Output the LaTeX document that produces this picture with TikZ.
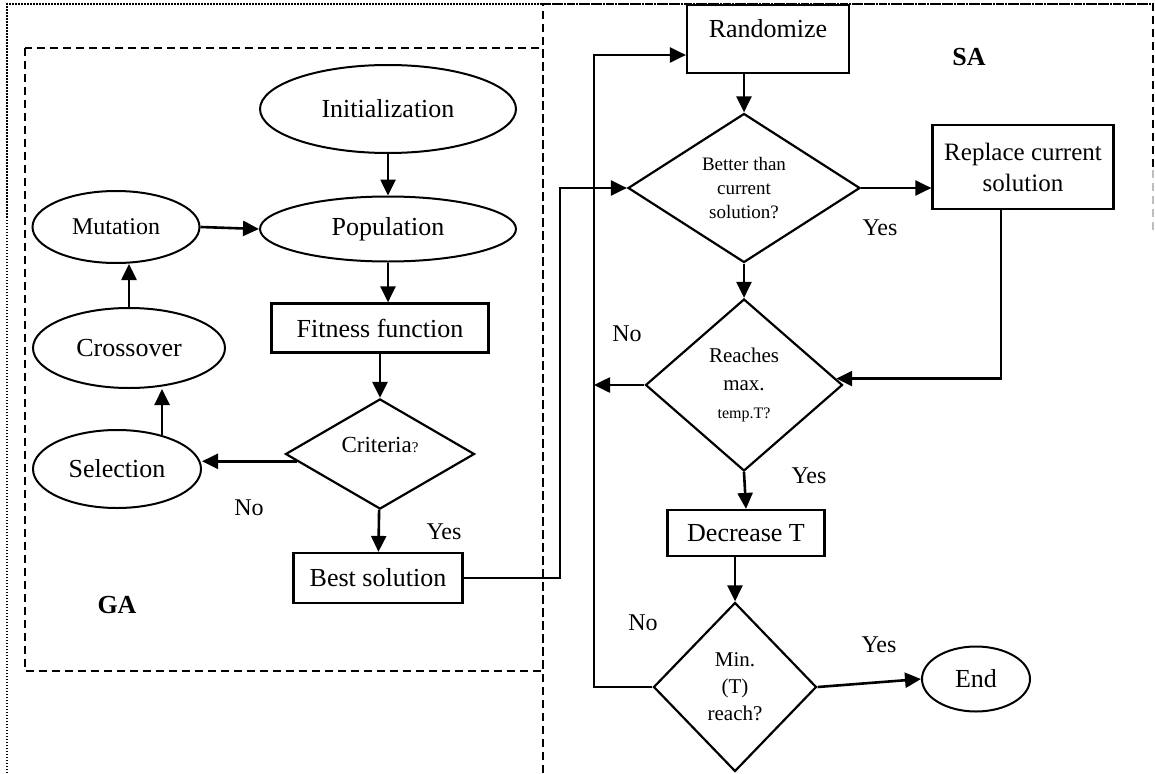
\documentclass[tikz,border=0pt]{standalone}
\usepackage{fontspec}
\setmainfont{Liberation Serif}
\usetikzlibrary{shapes.geometric,arrows.meta}

\begin{document}
\begin{tikzpicture}[x=1pt,y=-1pt,
  arr/.style={line width=2.6pt,-{Triangle[length=16pt,width=15pt]}},
  oval/.style={draw,ellipse,line width=2pt,inner sep=0pt,font=\fontsize{26}{30}\selectfont},
  box/.style={draw,rectangle,line width=2.2pt,inner sep=0pt,align=center,font=\fontsize{26}{30}\selectfont},
  decision/.style={draw,diamond,line width=2.2pt,inner sep=0pt,align=center},
  lbl/.style={font=\fontsize{24}{28}\selectfont},
  frame/.style={line width=2.2pt,dash pattern=on 8pt off 5pt}]
\useasboundingbox (0,0) rectangle (1155,773);

\draw[line width=1.8pt,dash pattern=on 1.5pt off 1.5pt] (7,773) -- (7,4) -- (1153,4);
\draw[frame] (25,48) rectangle (543,671);
\draw[frame] (543,773) -- (543,4) -- (1153,4) -- (1153,170);
\draw[frame,gray!50] (1153,170) -- (1153,232);

\node[oval,minimum width=256pt,minimum height=88pt] (init) at (388,109) {Initialization};
\node[oval,minimum width=256pt,minimum height=65pt] (pop) at (388,229) {Population};
\node[oval,minimum width=167pt,minimum height=72pt] (mut) at (116,227) {\fontsize{24}{28}\selectfont Mutation};
\node[oval,minimum width=192pt,minimum height=80pt] (cross) at (129,348) {Crossover};
\node[oval,minimum width=168pt,minimum height=78pt] (sel) at (117,469) {Selection};
\node[box,minimum width=217pt,minimum height=49pt] (fit) at (380,328) {Fitness function};
\node[decision,minimum width=189pt,minimum height=109pt,text depth=18pt,font=\fontsize{23}{27}\selectfont] (crit) at (380,454) {Criteria{\fontsize{15}{15}\selectfont ?}};
\node[box,minimum width=169pt,minimum height=50pt] (best) at (378,578) {Best solution};
\node[font=\fontsize{26}{30}\selectfont\bfseries] (ga) at (117,605) {GA};

\node[box,minimum width=162pt,minimum height=68pt,text depth=22pt] (rand) at (768,39) {Randomize};
\node[font=\fontsize{26}{30}\selectfont\bfseries] (sa) at (969,57) {SA};
\node[decision,minimum width=232pt,minimum height=149pt,font=\fontsize{19}{24}\selectfont] (better) at (744,188) {Better than\\current\\solution?};
\node[box,minimum width=181pt,minimum height=84pt,font=\fontsize{25}{31}\selectfont] (repl) at (1023,167) {Replace current\\solution};
\node[decision,minimum width=197pt,minimum height=172pt,font=\fontsize{21}{28}\selectfont] (reach) at (744,385) {Reaches\\max.\\{\fontsize{16}{20}\selectfont temp.T?}};
\node[box,minimum width=157pt,minimum height=46pt] (dec) at (746,533) {Decrease T};
\node[decision,minimum width=163pt,minimum height=169pt,font=\fontsize{21}{27}\selectfont] (minT) at (735,687) {Min.\\(T)\\reach?};
\node[oval,minimum width=108pt,minimum height=65pt] (end) at (976,679) {End};
\coordinate (gabus) at (560,188);
\coordinate (satop) at (594,55);

\node[lbl] (no1) at (249,508) {No};
\node[lbl] (yes1) at (444,532) {Yes};
\node[lbl] (yes2) at (880,228) {Yes};
\node[lbl] (no2) at (627,334) {No};
\node[lbl] (yes3) at (809,476) {Yes};
\node[lbl] (no3) at (643,623) {No};
\node[lbl] (yes4) at (879,645) {Yes};

\draw[arr] (init) -- (pop);
\draw[arr] (mut.east) -- (pop.west);
\draw[arr] (pop.south) -- (pop.south |- fit.north);
\draw[arr] (fit) -- (crit);
\draw[arr] (crit.185) -- (crit.185 -| sel.east);
\draw[arr] (sel.37) -- (sel.37 |- cross.south);
\draw[arr] (cross.north) -- (cross.north |- mut.south);
\draw[arr] (crit) -- (best);
\draw[arr] (best.east) -| (gabus) -- (better.west);

\draw[arr] (better.north |- rand.south) -- (better.north);
\draw[arr] (better.east) -- (better.east -| repl.west);
\draw[arr] (better) -- (reach);
\draw[arr] ([xshift=-22pt]repl.south) |- (reach.4);
\draw[arr] (reach.west) -- (reach.west -| satop);
\draw[arr] (reach.south) -- (dec.north);
\draw[arr] (minT.north |- dec.south) -- (minT.north);
\draw[arr] (minT.east) -- (end.west);
\draw[arr] (minT.west) -| (satop) -- (satop -| rand.west);
\end{tikzpicture}
\end{document}
